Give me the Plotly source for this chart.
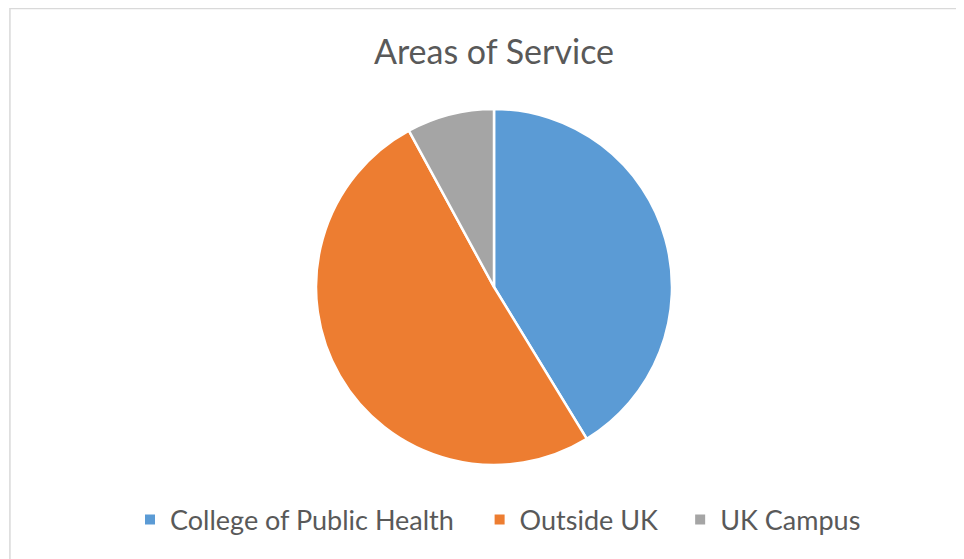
import plotly.graph_objects as go

categories = ["College of Public Health", "Outside UK", "UK Campus"]
values = [26, 32, 5]
colors = ["#5B9BD5", "#ED7D31", "#A5A5A5"]

W, H = 964, 559
OFF = 8  # page body margin
cx, cy, r = 494 - OFF, 287 - OFF, 178

# extra spacing between legend entries (non-breaking spaces after the text)
pads = ["\u00a0" * 3, "\u00a0" * 2 + "\u2009", ""]
legend_labels = [c + p for c, p in zip(categories, pads)]

fig = go.Figure(go.Pie(
    labels=legend_labels,
    values=values,
    sort=False,
    direction="clockwise",
    rotation=0,
    textinfo="none",
    hoverinfo="label+value+percent",
    marker=dict(colors=colors, line=dict(color="white", width=2.5)),
    domain=dict(x=[(cx - r) / W, (cx + r) / W],
                y=[(H - cy - r) / H, (H - cy + r) / H]),
))

fig.update_layout(
    width=W, height=H,
    margin=dict(l=0, r=0, t=0, b=0),
    paper_bgcolor="white",
    font=dict(family="Lato, Open Sans, sans-serif", color="#595959"),
    title=dict(text="Areas of Service", x=(494 - OFF) / W, xanchor="center",
               y=1 - (52 - OFF) / H, yanchor="middle",
               font=dict(size=34, color="#595959")),
    legend=dict(orientation="h", x=(130 - OFF) / W, xanchor="left",
                y=(H - (520 - OFF)) / H, yanchor="middle",
                font=dict(size=27, color="#595959"),
                itemsizing="constant", traceorder="normal"),
    shapes=[dict(type="rect", xref="paper", yref="paper", x0=0.002, x1=1.2,
                 y0=-0.2, y1=0.999, line=dict(color="#D9D9D9", width=1.5))],
)

fig.write_html("out.html")
